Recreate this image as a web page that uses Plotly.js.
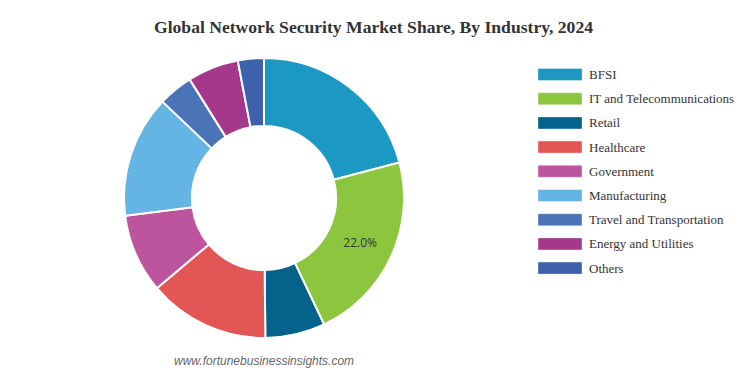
<!DOCTYPE html>
<html>
<head>
<meta charset="utf-8">
<script src="https://cdn.plot.ly/plotly-3.0.1.min.js"></script>
<style>html,body{margin:0;padding:0;background:#fff;}#chart{width:748px;height:374px;}</style>
</head>
<body>
<div id="chart"></div>
<script>
const industries = ["BFSI", "IT and Telecommunications", "Retail", "Healthcare", "Government", "Manufacturing", "Travel and Transportation", "Energy and Utilities", "Others"];
const shares = [20.9, 22.0, 6.9, 14.0, 9.1, 14.1, 4.0, 5.9, 3.0];
const colors = ["#1c99c2", "#8cc63f", "#05628a", "#e35656", "#bd559e", "#64b4e4", "#4b73b8", "#a5388a", "#3d62ab"];
const labelledIndustry = "IT and Telecommunications";

const W = 748, H = 374;
const cx = 264, cy = 198, R = 140;

const trace = {
  type: "pie",
  labels: industries,
  values: shares,
  sort: false,
  direction: "clockwise",
  rotation: 0,
  hole: 0.515,
  marker: {colors: colors, line: {color: "#ffffff", width: 2}},
  texttemplate: industries.map(n => n === labelledIndustry ? "%{percent:.1%}" : ""),
  textposition: "inside",
  insidetextorientation: "horizontal",
  textfont: {family: "Open Sans, sans-serif", size: 12, color: "#333333"},
  domain: {x: [(cx - R) / W, (cx + R) / W], y: [1 - (cy + R) / H, 1 - (cy - R) / H]},
  showlegend: false,
  hoverinfo: "label+percent"
};

const shapes = [];
const annotations = [];
const legX0 = 538, legX1 = 582, legY0 = 74.5, legStep = 24.2, sw = 12;
industries.forEach((name, i) => {
  const yc = legY0 + i * legStep;
  shapes.push({
    type: "rect", xref: "paper", yref: "paper",
    x0: legX0 / W, x1: legX1 / W, y0: 1 - (yc + sw / 2) / H, y1: 1 - (yc - sw / 2) / H,
    fillcolor: colors[i], line: {color: "rgba(255,255,255,0.35)", width: 1}
  });
  annotations.push({
    xref: "paper", yref: "paper", x: 587 / W, y: 1 - yc / H,
    xanchor: "left", yanchor: "middle", showarrow: false,
    text: name, font: {family: "Liberation Serif, Times New Roman, serif", size: 13, color: "#333333"}
  });
});
annotations.push({
  xref: "paper", yref: "paper", x: 264 / W, y: 1 - 361 / H,
  xanchor: "center", yanchor: "middle", showarrow: false,
  text: "<i>www.fortunebusinessinsights.com</i>",
  font: {family: "Liberation Sans, Arial, sans-serif", size: 12, color: "#666666"}
});

const layout = {
  width: W, height: H,
  margin: {l: 0, r: 0, t: 0, b: 0},
  paper_bgcolor: "#ffffff",
  title: {
    text: "<b>Global Network Security Market Share, By Industry, 2024</b>",
    x: 373.5 / W, xanchor: "center", y: 1 - 27 / H, yanchor: "middle",
    font: {family: "Liberation Serif, Times New Roman, serif", size: 17.6, color: "#333333"}
  },
  shapes: shapes,
  annotations: annotations,
  showlegend: false
};

Plotly.newPlot("chart", [trace], layout, {displayModeBar: false, staticPlot: true});
</script>
</body>
</html>
